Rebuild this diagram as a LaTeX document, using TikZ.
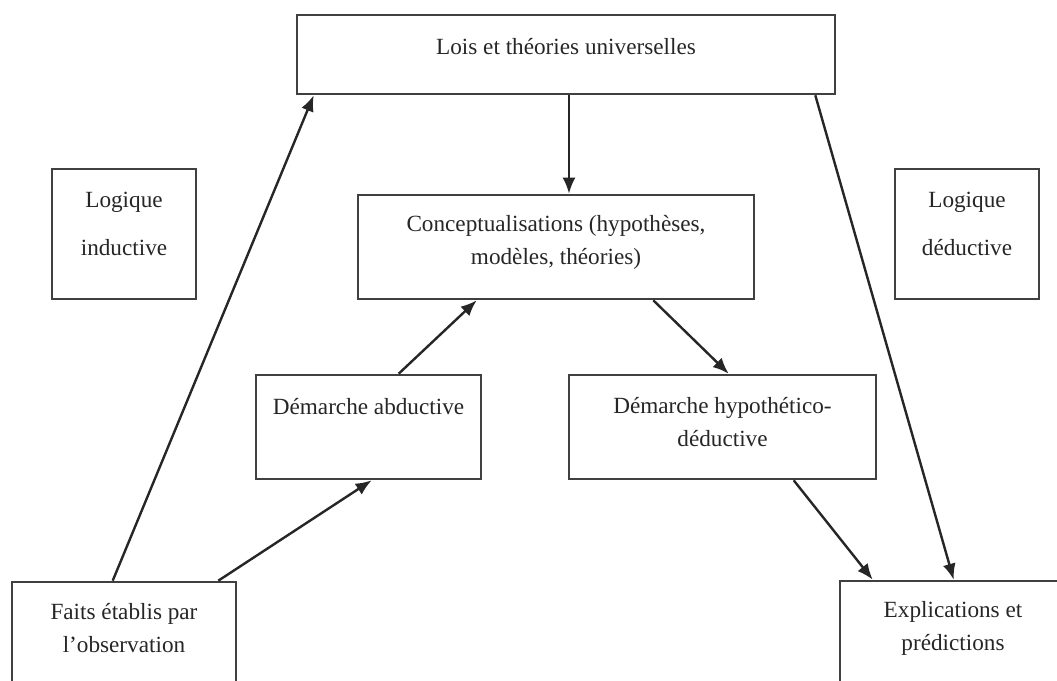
\documentclass[tikz,border=0pt]{standalone}
\usepackage{fontspec}
\setmainfont{Liberation Serif}
\usetikzlibrary{arrows, arrows.meta}

\begin{document}
\begin{tikzpicture}[x=0.5pt,y=-0.5pt,
  box/.style={draw=black!75, line width=1.3pt, inner sep=0pt},
  txt/.style={text=black!85, align=center, font=\fontsize{11.6}{16.5}\selectfont},
  wide/.style={txt, font=\fontsize{11.6}{24}\selectfont},
  arr/.style={black!85, line width=1.2pt, -{Latex[length=8pt,width=6.5pt]}}]
\useasboundingbox (0,0) rectangle (1057,681);
\clip (0,0) rectangle (1057,681);
%\draw[step=50,gray,very thin] (0,0) grid (1057,681); %background grid

% boxes
\node[box, minimum width=269pt, minimum height=39.5pt] (lois)    at (566,54.5) {};
\node[box, minimum width=72pt,  minimum height=65pt]   (induct)  at (124,234)  {};
\node[box, minimum width=198pt, minimum height=52pt]   (concept) at (556,247)  {};
\node[box, minimum width=72pt,  minimum height=65pt]   (deduct)  at (967,234)  {};
\node[box, minimum width=112.5pt, minimum height=52pt] (abduct)  at (368.5,427) {};
\node[box, minimum width=153.5pt, minimum height=52pt] (hypo)    at (722.5,427) {};
\node[box, minimum width=112pt, minimum height=69pt]   (faits)   at (124,651)  {};
\node[box, minimum width=113pt, minimum height=69.5pt] (explic)  at (953,650.5) {};

% texts
\node[txt]  (loist)    at (566,47)  {Lois et théories universelles};
\node[wide] (inductt)  at (124,224) {Logique\\inductive};
\node[txt]  (conceptt) at (556,242) {Conceptualisations (hypothèses,\\modèles, théories)};
\node[wide] (deductt)  at (967,224) {Logique\\déductive};
\node[txt]  (abductt)  at (368.5,407) {Démarche abductive};
\node[txt]  (hypot)    at (722.5,422) {Démarche hypothético-\\déductive};
\node[txt]  (faitst)   at (124,628) {Faits établis par\\l’observation};
\node[txt]  (explict)  at (953,628) {Explications et\\prédictions};

% arrows
\draw[arr] ([xshift=51pt]faits.north west)  -- ([xshift=9pt]lois.south west);   %induction
\draw[arr] ([xshift=1.5pt]lois.south)        -- ([xshift=6.5pt]concept.north);
\draw[arr] ([xshift=-10.5pt]lois.south east) -- ([xshift=57.5pt]explic.north west); %deduction
\draw[arr] ([xshift=-9.5pt]faits.north east) -- ([xshift=58.5pt]abduct.south west);
\draw[arr] ([xshift=72pt]abduct.north west)  -- ([xshift=60pt]concept.south west);
\draw[arr] ([xshift=-51pt]concept.south east) -- ([xshift=80.5pt]hypo.north west);
\draw[arr] ([xshift=113pt]hypo.south west)   -- ([xshift=17pt]explic.north west);

\end{tikzpicture}
\end{document}
